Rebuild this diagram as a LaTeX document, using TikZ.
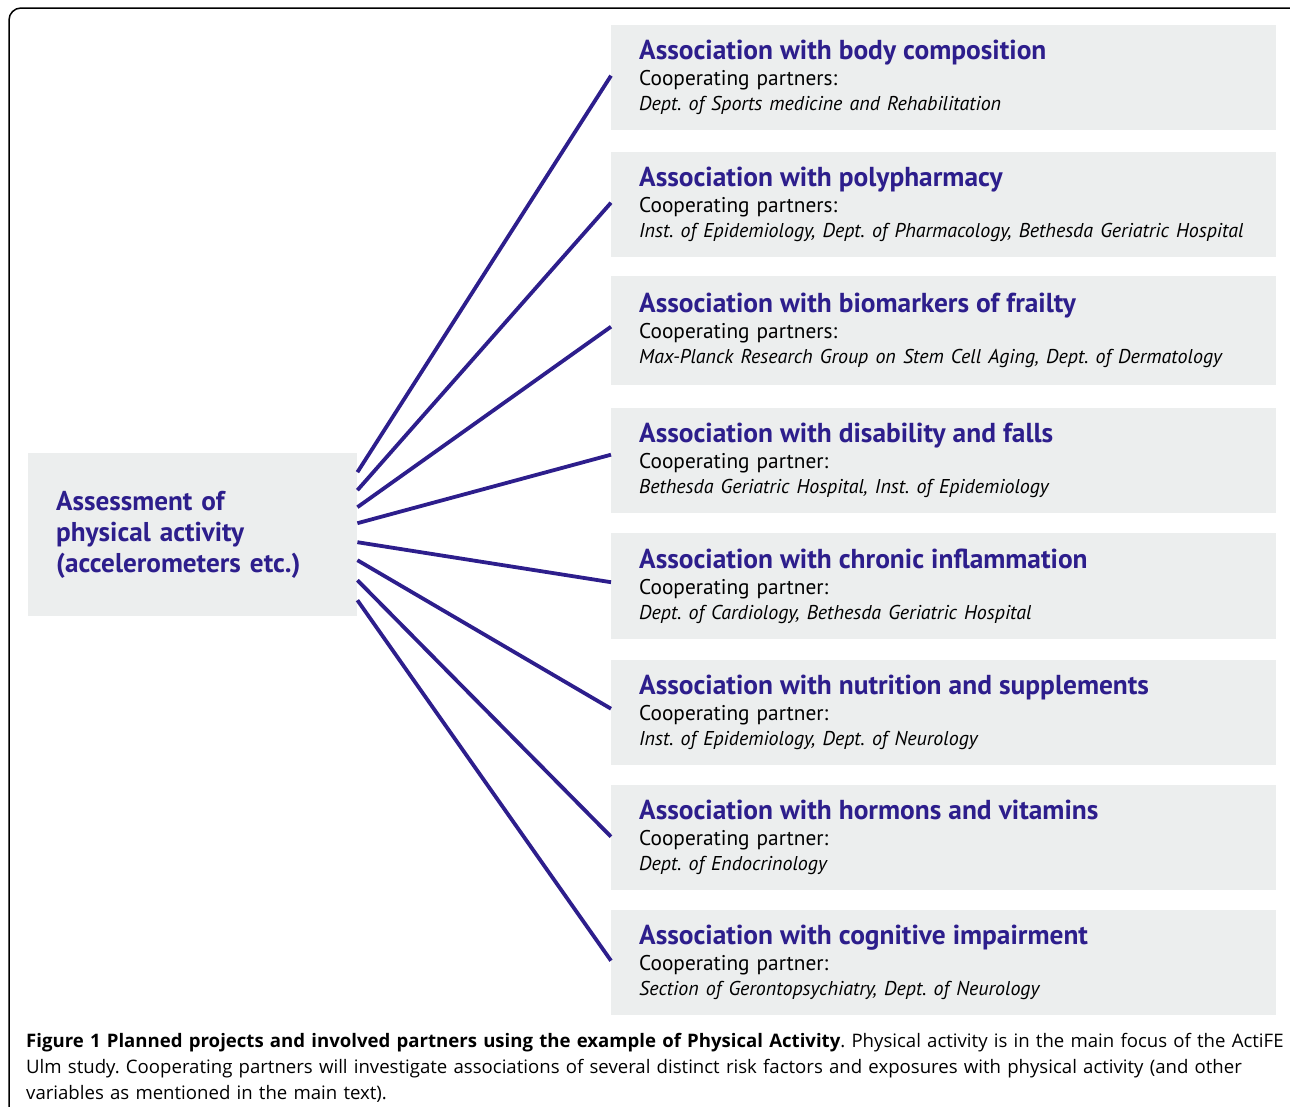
\documentclass[tikz,border=0pt]{standalone}
\usepackage{fontspec}
\setmainfont{PT Sans}
\newfontfamily\capfont{Open Sans}
\usepackage{tikz}
\usepackage{color}

\definecolor{assocblue}{RGB}{45,30,140}
\definecolor{boxgray}{RGB}{236,238,238}

\newcommand{\assoctitle}[1]{{\color{assocblue}\bfseries\fontsize{27.4}{28}\selectfont #1}\\[1pt]}
\newcommand{\partnerlist}[1]{{\itshape\fontsize{20}{25}\selectfont #1}}

\begin{document}
\frenchspacing
\begin{tikzpicture}[x=1pt,y=-1pt,
  assoc/.style={fill=boxgray,anchor=north west,minimum width=665pt,minimum height=105pt,
    text width=609pt,inner xsep=28pt,inner ysep=0pt,align=left,font=\fontsize{21.3}{25}\selectfont},
  link/.style={draw=assocblue,line width=3.8pt}]
\useasboundingbox (0,0) rectangle (1290,1106);
\draw[line width=1.5pt,rounded corners=12pt] (9,1140) |- (1320,8);

\node [fill=boxgray,anchor=north west,minimum width=329pt,minimum height=163pt,
  text width=273pt,inner xsep=28pt,align=left,text=assocblue,
  font=\bfseries\fontsize{27.2}{31}\selectfont] (src) at (28,453)
  {Assessment of\\physical activity\\(accelerometers etc.)};

\node [assoc] (a1) at (611,25) {\assoctitle{Association with body composition}
  Cooperating partners:\\ \partnerlist{Dept. of Sports medicine and Rehabilitation}};
\node [assoc] (a2) at (611,152) {\assoctitle{Association with polypharmacy}
  Cooperating partners:\\ \partnerlist{Inst. of Epidemiology, Dept. of Pharmacology, Bethesda Geriatric Hospital}};
\node [assoc,minimum height=109pt] (a3) at (611,276) {\assoctitle{Association with biomarkers of frailty}
  Cooperating partners:\\ \partnerlist{Max-Planck Research Group on Stem Cell Aging, Dept. of Dermatology}};
\node [assoc] (a4) at (611,408) {\assoctitle{Association with disability and falls}
  Cooperating partner:\\ \partnerlist{Bethesda Geriatric Hospital, Inst. of Epidemiology}};
\node [assoc,minimum height=106pt] (a5) at (611,533) {\assoctitle{Association with chronic inflammation}
  Cooperating partner:\\ \partnerlist{Dept. of Cardiology, Bethesda Geriatric Hospital}};
\node [assoc] (a6) at (611,660) {\assoctitle{Association with nutrition and supplements}
  Cooperating partner:\\ \partnerlist{Inst. of Epidemiology, Dept. of Neurology}};
\node [assoc] (a7) at (611,785) {\assoctitle{Association with hormons and vitamins}
  Cooperating partner:\\ \partnerlist{Dept. of Endocrinology}};
\node [assoc] (a8) at (611,910) {\assoctitle{Association with cognitive impairment}
  Cooperating partner:\\ \partnerlist{Section of Gerontopsychiatry, Dept. of Neurology}};

\draw[link] ([yshift=62.5pt]src.east) -- ([yshift=2pt]a1.west);
\draw[link] ([yshift=44.5pt]src.east) -- ([yshift=2pt]a2.west);
\draw[link] ([yshift=27.5pt]src.east) -- ([yshift=4pt]a3.west);
\draw[link] ([yshift=11.5pt]src.east) -- ([yshift=6pt]a4.west);
\draw[link] ([yshift=-7.5pt]src.east) -- ([yshift=4pt]a5.west);
\draw[link] ([yshift=-25.5pt]src.east) -- ([yshift=4pt]a6.west);
\draw[link] ([yshift=-45.5pt]src.east) -- ([yshift=1pt]a7.west);
\draw[link] ([yshift=-65.5pt]src.east) -- ([yshift=2pt]a8.west);

\node [anchor=north west,inner sep=0pt,text width=1262pt,align=left,
  font=\capfont\fontsize{18.6}{26}\selectfont] (caption) at (26,1033)
  {\textbf{Figure 1 Planned projects and involved partners using the example of Physical Activity}. Physical activity is in the main focus of the ActiFE\\
  Ulm study. Cooperating partners will investigate associations of several distinct risk factors and exposures with physical activity (and other\\
  variables as mentioned in the main text).};
\end{tikzpicture}
\end{document}
